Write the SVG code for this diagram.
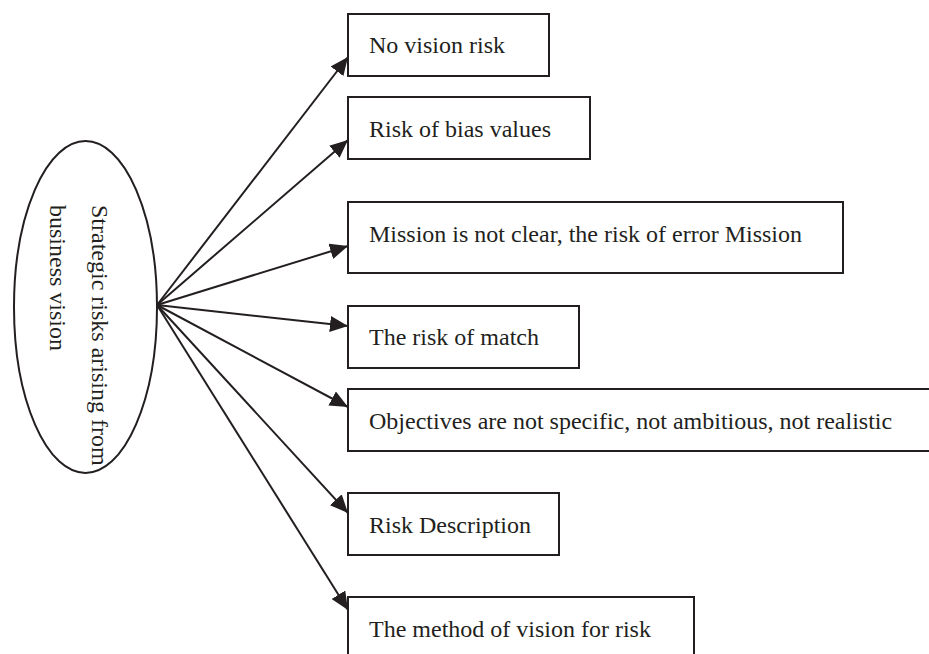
<svg xmlns="http://www.w3.org/2000/svg" width="929" height="654" viewBox="0 0 929 654">
<style>
.box{fill:#fff;stroke:#231f20;stroke-width:2}
.t{font-family:"Liberation Serif","Times New Roman",serif;font-size:24px;fill:#231f20}
.c{stroke:#231f20;stroke-width:2;fill:none;marker-end:url(#ah)}
</style>
<defs>
<marker id="ah" markerUnits="userSpaceOnUse" markerWidth="20" markerHeight="16" viewBox="0 0 20 16" refX="18" refY="8" orient="auto">
<path d="M0,0 L18,8 L0,16 Z" fill="#231f20"/>
</marker>
</defs>
<rect width="929" height="654" fill="#fff"/>
<g id="center">
<ellipse cx="85.5" cy="307" rx="71.5" ry="166" fill="#fff" stroke="#231f20" stroke-width="2"/>
<text class="t" transform="translate(92,205) rotate(90)">Strategic risks arising from</text>
<text class="t" transform="translate(50,205) rotate(90)">business vision</text>
</g>
<g id="n1"><rect class="box" x="348" y="14" width="201" height="62"/><text class="t" x="369" y="53">No vision risk</text></g>
<g id="n2"><rect class="box" x="348" y="97" width="242" height="62"/><text class="t" x="369" y="137">Risk of bias values</text></g>
<g id="n3"><rect class="box" x="348" y="202" width="495" height="71"/><text class="t" x="369" y="242">Mission is not clear, the risk of error Mission</text></g>
<g id="n4"><rect class="box" x="348" y="306" width="231" height="62"/><text class="t" x="369" y="345">The risk of match</text></g>
<g id="n5"><rect class="box" x="348" y="389" width="600" height="62"/><text class="t" x="369" y="429">Objectives are not specific, not ambitious, not realistic</text></g>
<g id="n6"><rect class="box" x="348" y="493" width="211" height="62"/><text class="t" x="369" y="533">Risk Description</text></g>
<g id="n7"><rect class="box" x="348" y="597" width="346" height="70"/><text class="t" x="369" y="637">The method of vision for risk</text></g>
<g id="connectors">
<line class="c" x1="157" y1="305" x2="348" y2="57"/>
<line class="c" x1="157" y1="305" x2="348" y2="140"/>
<line class="c" x1="157" y1="305" x2="348" y2="246"/>
<line class="c" x1="157" y1="305" x2="348" y2="326"/>
<line class="c" x1="157" y1="305" x2="348" y2="407"/>
<line class="c" x1="157" y1="305" x2="348" y2="513"/>
<line class="c" x1="157" y1="305" x2="348" y2="610"/>
</g>
</svg>
